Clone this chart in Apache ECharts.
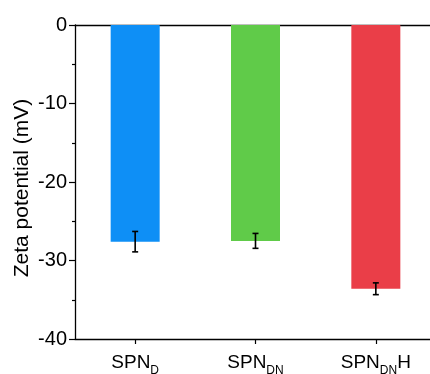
<!DOCTYPE html>
<html><head><meta charset="utf-8">
<script src="https://cdn.jsdelivr.net/npm/echarts@6/dist/echarts.min.js"></script>
<style>html,body{margin:0;padding:0;background:#fff}#c{width:430px;height:374px}</style>
</head><body><div id="c"></div>
<script>
const categories = ['SPN_D', 'SPN_DN', 'SPN_DNH'];
const values = [-27.6, -27.5, -33.6];
const errors = [1.3, 0.95, 0.75];
const colors = ['#0E8FF6', '#60CB49', '#EA3E48'];
const yTicks = [0, -10, -20, -30, -40];

const chart = echarts.init(document.getElementById('c'), null, {renderer: 'canvas'});
const font = 'Liberation Sans, Arial, sans-serif';
const xLabelFmt = {
  'SPN_D': '{m|SPN}{s|D}',
  'SPN_DN': '{m|SPN}{s|DN}',
  'SPN_DNH': '{m|SPN}{s|DN}{m|H}'
};
chart.setOption({
  animation: false,
  grid: {left: 75, width: 361, top: 25, bottom: 35, containLabel: false, outerBoundsMode: 'none'},
  xAxis: [{
    type: 'category', data: categories, position: 'bottom',
    axisLine: {show: true, onZero: false, lineStyle: {color: '#000', width: 1.3}},
    axisTick: {show: true, alignWithLabel: true, length: 5, lineStyle: {color: '#000', width: 1.2}},
    axisLabel: {
      interval: 0, margin: 13, fontFamily: font,
      formatter: v => xLabelFmt[v],
      rich: {
        m: {fontSize: 19, fontFamily: font, color: '#000', verticalAlign: 'bottom', lineHeight: 20},
        s: {fontSize: 12, fontFamily: font, color: '#000', verticalAlign: 'bottom', lineHeight: 14, padding: [0,0,-5,0]}
      }
    }
  }, {
    type: 'category', data: categories, position: 'top',
    axisLine: {show: true, onZero: false, lineStyle: {color: '#000', width: 1.3}},
    axisTick: {show: false}, axisLabel: {show: false}
  }],
  yAxis: {
    type: 'value', min: -40, max: 0, interval: 10,
    name: 'Zeta potential (mV)', nameLocation: 'middle', nameGap: 42, nameMoveOverlap: false,
    nameTextStyle: {fontSize: 21, fontFamily: font, color: '#000', padding: [0, 12, 0, 0]},
    axisLine: {show: true, lineStyle: {color: '#000', width: 1.3}},
    axisTick: {show: true, length: 6, lineStyle: {color: '#000', width: 1.2}},
    minorTick: {show: true, splitNumber: 2, length: 3, lineStyle: {color: '#000', width: 1.2}},
    splitLine: {show: false},
    axisLabel: {fontSize: 20, fontFamily: font, color: '#000', margin: 8,
      formatter: v => yTicks.includes(v) ? String(v) : ''}
  },
  series: [{
    type: 'bar', barWidth: 49,
    data: values.map((v, i) => ({value: v, itemStyle: {color: colors[i]}}))
  }, {
    type: 'custom',
    data: values.map((v, i) => [i, v, errors[i]]),
    renderItem: (params, api) => {
      const x = api.value(0), v = api.value(1), e = api.value(2);
      const top = api.coord([x, v + e]);
      const bot = api.coord([x, v - e]);
      const hw = 3;
      const st = {stroke: '#000', lineWidth: 1.6};
      return {type: 'group', children: [
        {type: 'line', shape: {x1: top[0], y1: top[1], x2: bot[0], y2: bot[1]}, style: st},
        {type: 'line', shape: {x1: top[0]-hw, y1: top[1], x2: top[0]+hw, y2: top[1]}, style: st},
        {type: 'line', shape: {x1: bot[0]-hw, y1: bot[1], x2: bot[0]+hw, y2: bot[1]}, style: st}
      ]};
    },
    z: 10
  }]
});
</script></body></html>
